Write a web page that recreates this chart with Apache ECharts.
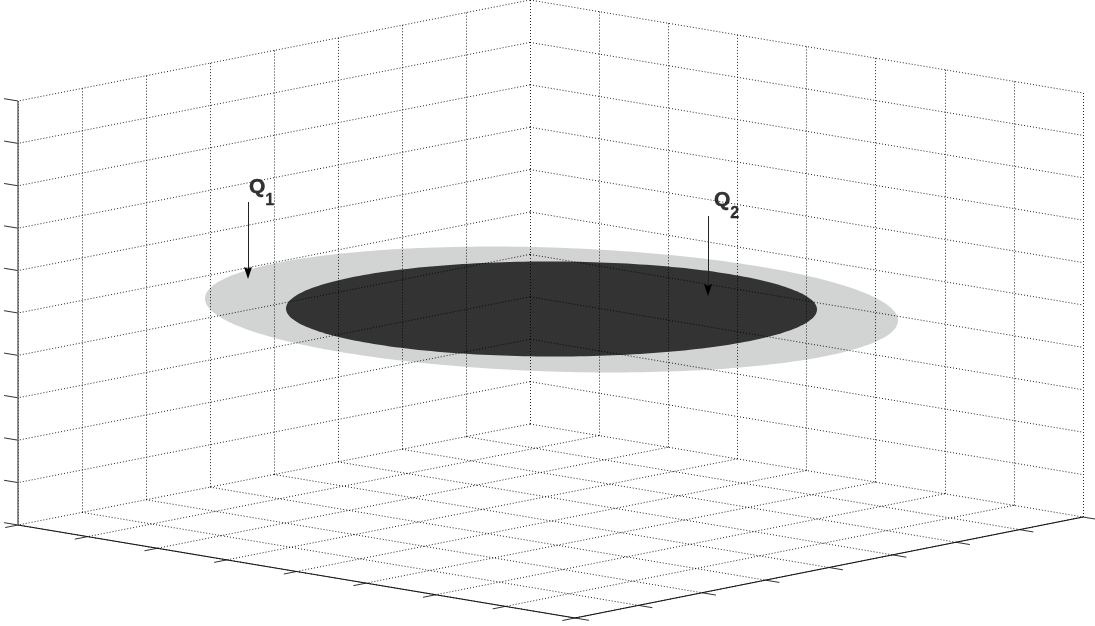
<!DOCTYPE html>
<html>
<head>
<meta charset="utf-8">
<style>html,body{margin:0;padding:0;background:#fff}#c{width:1095px;height:626px}</style>
<script src="https://cdn.jsdelivr.net/npm/echarts@6/dist/echarts.min.js"></script>
</head>
<body>
<div id="c"></div>
<script>
// Axis tick positions (no tick labels are shown in the figure)
const xTicks = [0,1,2,3,4,5,6,7,8];
const yTicks = [0,1,2,3,4,5,6,7,8];
const zTicks = [0,1,2,3,4,5,6,7,8,9,10];

// Discs, in the plane of the page
const discNames = ['Q1 disc','Q2 disc'];
const discCenterX = [551.5,551.5];
const discCenterY = [309.5,309];
const discHalfWidth = [346.5,265.5];
const discHalfHeight = [62,47.5];
const discTilt = [11,0.5];
const discColors = ['#d2d3d3','#333333'];

// Annotations
const arrowNames = ['Q','Q'];
const arrowSubscripts = ['1','2'];
const arrowX = [248,708];
const arrowTopY = [202,216];
const arrowTipY = [279,296];
const labelX = [249,714];
const labelY = [187,200];

// View of the box
const back = [530,424], left = [18,525], right = [1083,517], front = [575,618], zTop = 424;
const N = 8, Z = 10;
function project(u,v,z){
  const a = u/N, b = v/N;
  const w = [(1-a)*(1-b), a*(1-b), (1-a)*b, a*b];
  return [
    w[0]*back[0]+w[1]*left[0]+w[2]*right[0]+w[3]*front[0],
    w[0]*back[1]+w[1]*left[1]+w[2]*right[1]+w[3]*front[1] - zTop*z/Z
  ];
}
function seg(a,b){ return {coords:[project(a[0],a[1],a[2]),project(b[0],b[1],b[2])]}; }

const gridSegs = [];
xTicks.forEach(u=>{
  gridSegs.push(seg([u,0,0],[u,0,Z]));        // left wall verticals
  gridSegs.push(seg([u,0,0],[u,N,0]));        // floor
});
yTicks.forEach(v=>{
  if(v>0) gridSegs.push(seg([0,v,0],[0,v,Z])); // right wall verticals
  gridSegs.push(seg([0,v,0],[N,v,0]));         // floor
});
zTicks.forEach(z=>{
  if(z>0){
    gridSegs.push(seg([0,0,z],[N,0,z]));
    gridSegs.push(seg([0,0,z],[0,N,z]));
  }
});

const tick = 0.2;
const axisSegs = [seg([N,0,0],[N,N,0]), seg([0,N,0],[N,N,0])];
const tickSegs = [];
yTicks.forEach(v=>tickSegs.push(seg([N,v,0],[N+tick,v,0])));
xTicks.forEach(u=>tickSegs.push(seg([u,N,0],[u,N+tick,0])));
zTicks.forEach(z=>tickSegs.push(seg([N,0,z],[N,-tick,z])));

const chart = echarts.init(document.getElementById('c'),null,{renderer:'canvas'});
const common = {type:'lines',coordinateSystem:'cartesian2d',silent:true,animation:false};
chart.setOption({
  animation:false,
  backgroundColor:'#ffffff',
  grid:{left:0,right:0,top:0,bottom:0},
  xAxis:{type:'value',min:0,max:1095,show:false},
  yAxis:{type:'value',min:0,max:626,inverse:true,show:false},
  series:[
    {
      type:'custom',silent:true,z:1,animation:false,clip:false,
      data:discNames.map((n,i)=>({name:n,value:[discCenterX[i],discCenterY[i],i]})),
      renderItem(params,api){
        const i = api.value(2), pts = [];
        for(let k=0;k<240;k++){
          const t = k/240*2*Math.PI;
          pts.push(api.coord([
            discCenterX[i]+discHalfWidth[i]*Math.cos(t),
            discCenterY[i]+discHalfHeight[i]*Math.sin(t)+discTilt[i]*Math.cos(t)
          ]));
        }
        return {type:'polygon',shape:{points:pts},style:{fill:discColors[i]}};
      }
    },
    Object.assign({},common,{name:'grid',z:2,data:gridSegs,
      lineStyle:{color:'#000',width:1,type:[1,2],opacity:0.85}}),
    Object.assign({},common,{name:'ticks',z:3,data:tickSegs,
      lineStyle:{color:'#333',width:1,opacity:1}}),
    Object.assign({},common,{name:'axes',z:3,data:axisSegs,
      lineStyle:{color:'#111',width:1.2,opacity:1}}),
    Object.assign({},common,{name:'zaxis',z:3,
      data:[seg([N,0,0],[N,0,Z])],
      lineStyle:{color:'#666',width:1.5,opacity:1}}),
    Object.assign({},common,{name:'arrows',z:4,
      data:arrowX.map((x,i)=>({coords:[[x,arrowTopY[i]],[x,arrowTipY[i]-6]]})),
      lineStyle:{color:'#222',width:1,opacity:1}}),
    {
      type:'scatter',name:'arrow heads',silent:true,z:4,animation:false,
      symbol:'path://M0,0 L5,2 L10,0 L5,14 Z',symbolSize:[8,12],symbolOffset:[0,-6],
      itemStyle:{color:'#000',opacity:1},
      data:arrowX.map((x,i)=>[x,arrowTipY[i]])
    },
    {
      type:'scatter',silent:true,z:5,animation:false,symbolSize:0,
      data:labelX.map((x,i)=>({
        value:[x,labelY[i]],
        label:{show:true,position:'right',distance:0,
          formatter:'{q|'+arrowNames[i]+'}{s|'+arrowSubscripts[i]+'}',
          rich:{
            q:{fontFamily:'Liberation Sans',fontWeight:'bold',fontSize:21,color:'#000',textBorderColor:'#000',textBorderWidth:0.5},
            s:{fontFamily:'Liberation Sans',fontWeight:'bold',fontSize:16,color:'#000',padding:[28,0,0,0],textBorderColor:'#000',textBorderWidth:0.3}
          }}
      }))
    }
  ]
});
</script>
</body>
</html>
